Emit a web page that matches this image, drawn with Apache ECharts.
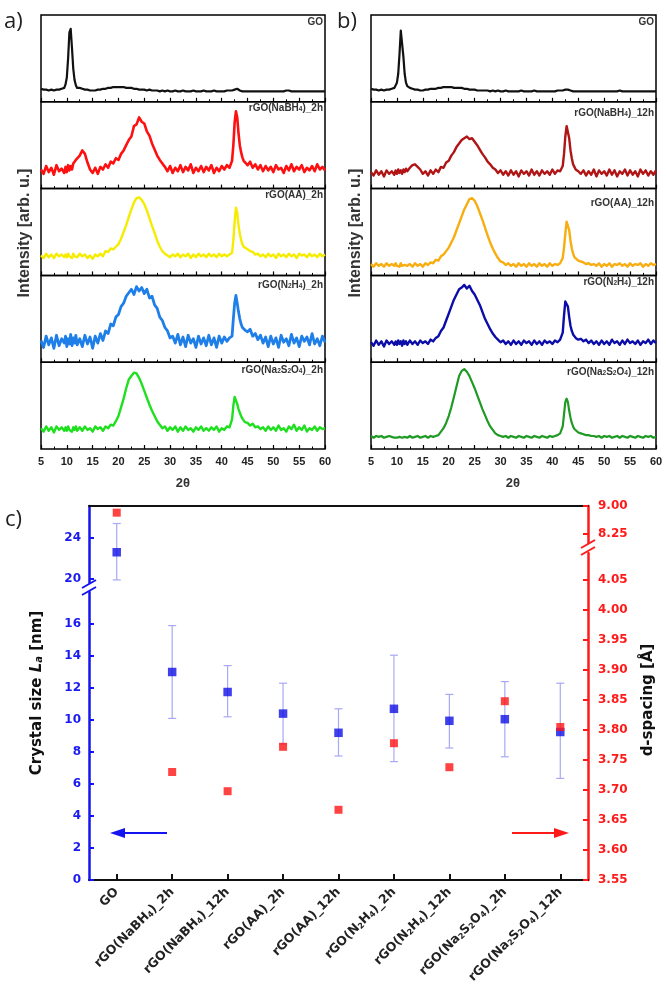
<!DOCTYPE html>
<html><head><meta charset="utf-8">
<script src="https://cdn.jsdelivr.net/npm/echarts@6/dist/echarts.min.js"></script>
<style>html,body{margin:0;padding:0;background:#fff}#c{width:666px;height:994px}</style>
</head><body><div id="c"></div>
<script>
// ---------- XRD data (panels a, b) ----------
const twoTheta = [5,5.5,6,6.5,7,7.5,8,8.5,9,9.5,
 9.75,10,10.25,10.5,10.75,11,11.25,11.5,11.75,12,
 12.5,13,13.5,14,14.5,15,15.5,16,16.5,17, 17.5,18,18.5,19,19.5,20,20.5,21,21.5,22,
 22.5,23,23.5,24,24.5,25,25.5,26,26.5,27, 27.5,28,28.5,29,29.5,30,30.5,31,31.5,32,
 32.5,33,33.5,34,34.5,35,35.5,36,36.5,37, 37.5,38,38.5,39,39.5,40,40.5,41,41.5,
 42,42.25,42.5,42.75,43,43.25,43.5,43.75,44,44.25,44.5,
 45,45.5,46,46.5,47,47.5,48,48.5,49,49.5, 50,50.5,51,51.5,52,52.5,53,53.5,54,54.5,
 55,55.5,56,56.5,57,57.5,58,58.5,59,59.5, 60];
const xrdTicks = [5,10,15,20,25,30,35,40,45,50,55,60];

const aGO = [15,14,14,13,14,13,14,14,15,16,
 20,28,50,80,84,62,38,25,19,16,
 16,15,14,14,13,13,13,14,14,15, 15,16,16,17,17,17,17,17,16,16,
 16,15,15,14,14,14,13,14,13,13, 13,12,13,12,13,12,12,13,12,12,
 13,12,12,12,13,12,12,12,13,12, 12,12,13,12,12,12,12,13,13,
 13,13,14,15,15,14,13,13,12,12,12,
 12,12,12,12,12,12,12,12,12,12, 12,12,12,12,12,13,13,12,12,12,
 12,12,12,12,12,12,12,12,12,12, 12];
const aNaBH4 = [22,17,26,19,24,16,27,20,23,18,
 25,19,27,21,26,22,29,27,33,35,
 38,44,40,30,22,18,24,17,25,22, 28,24,31,29,35,33,40,44,50,56,
 60,72,74,82,77,75,66,61,52,45, 38,33,29,25,20,26,18,24,20,27,
 19,25,21,28,18,24,20,26,19,25, 21,27,18,24,20,26,22,27,24,
 32,50,76,89,82,64,50,42,36,32,30,
 27,31,24,28,22,27,20,26,21,25, 19,27,22,24,18,26,21,28,20,25,
 22,27,19,24,21,26,20,28,22,25, 21];
const aAA = [23,20,25,21,24,20,25,22,24,21,
 24,21,25,22,24,20,25,22,24,21,
 25,22,24,20,23,19,24,22,25,22, 28,27,31,30,33,36,42,50,58,67,
 76,84,89,90,87,82,75,66,57,49, 40,33,28,25,23,21,24,22,25,21,
 24,22,25,20,24,21,25,22,24,21, 25,22,24,21,25,22,24,22,24,
 26,40,62,78,72,58,48,41,36,33,31,
 30,28,27,24,25,22,24,21,25,22, 24,20,25,22,24,21,25,22,24,20,
 25,23,24,21,25,22,24,21,25,22, 24];
const aN2H4 = [25,17,30,20,28,16,31,19,27,22,
 30,18,27,21,32,19,28,22,31,20,
 27,18,31,21,29,16,30,22,33,25, 36,33,44,42,52,55,64,68,76,80,
 84,78,87,82,86,79,84,74,76,66, 62,52,48,40,36,28,30,22,32,20,
 29,18,31,22,27,17,30,21,28,19, 31,20,28,17,30,22,29,24,28,
 30,50,68,77,68,58,50,44,40,42,37,
 35,38,30,33,26,31,22,29,18,30, 21,28,17,31,23,27,19,32,22,28,
 18,30,24,29,20,33,21,27,19,30, 23];
const aNa2S2O4 = [24,20,26,21,25,19,26,22,25,21,
 25,21,26,22,24,20,25,22,26,21,
 25,21,26,22,24,20,26,23,25,21, 26,24,28,27,32,38,48,58,70,80,
 84,88,87,82,75,67,59,51,44,38, 32,28,24,26,21,25,22,26,20,25,
 21,26,22,24,20,25,22,26,21,24, 21,25,22,26,20,24,22,26,25,
 34,50,60,58,52,46,42,38,35,33,31,
 30,27,29,25,26,23,25,21,26,22, 25,21,27,22,24,20,26,23,28,21,
 25,22,27,20,24,22,26,21,25,23, 24];

const bGO = [15,14,14,13,14,13,14,14,15,16,
 18,22,32,55,82,80,52,32,22,18,
 16,15,14,14,13,13,14,14,15,15, 15,16,16,17,17,17,17,16,16,16,
 16,15,15,14,14,14,13,13,13,13, 13,12,13,12,13,12,12,13,12,12,
 12,12,12,13,12,12,12,12,13,12, 12,12,12,12,12,12,12,13,13,
 13,13,14,15,14,14,13,13,12,12,12,
 12,12,12,12,12,12,12,12,12,12, 12,12,12,12,12,12,13,12,12,12,
 12,12,12,12,12,12,12,12,12,12, 12];
const bNaBH4 = [19,15,21,16,20,14,21,17,20,16,
 21,17,22,18,21,17,22,19,23,20,
 24,27,28,25,22,17,20,15,21,17, 22,19,25,24,30,32,38,42,48,52,
 56,58,60,57,58,54,50,45,40,36, 31,28,24,22,18,21,16,20,15,21,
 16,20,14,21,17,20,15,22,16,20, 15,21,17,20,16,22,17,21,20,
 26,40,60,72,74,58,44,35,28,25,22,
 20,17,21,15,20,16,22,14,21,17, 20,15,22,16,21,14,20,17,22,15,
 21,16,20,14,22,17,21,15,20,16, 21];
const bAA = [13,10,14,11,13,10,14,11,13,11,
 14,11,13,10,14,11,13,12,14,11,
 13,10,14,11,13,10,14,12,15,14, 18,17,22,24,28,32,38,44,52,60,
 68,76,82,88,89,86,80,72,64,55, 46,38,31,25,20,16,15,12,14,11,
 13,10,14,11,13,10,14,11,13,10, 14,11,13,10,14,11,13,12,14,
 20,32,48,62,64,52,40,31,25,21,19,
 17,16,15,13,14,12,13,11,14,10, 13,11,14,10,13,12,14,11,13,10,
 14,11,13,12,14,10,13,11,14,12, 13];
const bN2H4 = [23,19,25,20,24,18,25,21,24,20,
 24,20,25,21,24,19,25,21,24,20,
 25,21,24,20,25,22,24,21,26,24, 28,30,36,40,48,56,64,72,78,84,
 86,89,85,88,82,78,72,66,58,50, 44,38,33,29,26,23,25,21,24,20,
 25,21,24,20,25,22,24,20,25,21, 24,20,25,22,24,21,25,23,26,
 34,54,70,72,64,52,42,36,32,30,28,
 26,27,24,26,22,25,21,24,20,25, 21,24,20,26,22,24,20,25,21,26,
 22,24,21,25,20,24,22,26,21,25, 22];
const bNa2S2O4 = [15,13,15,14,15,13,14,15,14,13,
 15,13,15,14,14,13,15,14,15,13,
 15,13,14,15,13,14,15,13,15,14, 15,16,20,24,30,38,48,60,72,84,
 90,92,89,84,77,70,62,54,46,39, 32,26,22,18,16,15,14,15,13,15,
 14,13,15,14,13,15,14,13,15,14, 13,15,14,13,15,14,15,16,18,
 26,40,54,58,54,44,36,30,26,23,21,
 19,18,17,16,16,15,15,14,15,13, 15,14,15,13,14,15,13,15,14,13,
 15,14,13,15,14,13,15,14,15,13, 14];

const tracesA = [aGO, aNaBH4, aAA, aN2H4, aNa2S2O4];
const tracesB = [bGO, bNaBH4, bAA, bN2H4, bNa2S2O4];
const labelsA = ['GO','rGO(NaBH4)_2h','rGO(AA)_2h','rGO(N2H4)_2h','rGO(Na2S2O4)_2h'];
const labelsB = ['GO','rGO(NaBH4)_12h','rGO(AA)_12h','rGO(N2H4)_12h','rGO(Na2S2O4)_12h'];

// ---------- panel c data ----------
const categories = ['GO','rGO(NaBH4)_2h','rGO(NaBH4)_12h','rGO(AA)_2h','rGO(AA)_12h',
 'rGO(N2H4)_2h','rGO(N2H4)_12h','rGO(Na2S2O4)_2h','rGO(Na2S2O4)_12h'];
const crystalSize     = [22.6, 13.0, 11.75, 10.4, 9.2, 10.7, 9.95, 10.05, 9.25];
const crystalSizeLow  = [19.9, 10.1, 10.2, 8.5, 7.75, 7.4, 8.25, 7.7, 6.35];
const crystalSizeHigh = [25.4, 15.9, 13.4, 12.3, 10.7, 14.05, 11.6, 12.4, 12.3];
const dSpacing        = [8.82, 3.73, 3.698, 3.772, 3.667, 3.778, 3.738, 3.848, 3.805];
const sizeTicksUpper = [20, 24];
const sizeTicksLower = [0, 2, 4, 6, 8, 10, 12, 14, 16];
const dTicksUpper = [8.25, 9.00];
const dTicksLower = [3.55, 3.60, 3.65, 3.70, 3.75, 3.80, 3.85, 3.90, 3.95, 4.00, 4.05];
const sizeBreak = 18, dBreak = 5;

// ---------- layout ----------
const colorsA = ['#111111','#ff1010','#f5ec00','#1f7fe8','#1ee01e'];
const colorsB = ['#111111','#b01414','#f8ad10','#0c0ca8','#1f9a24'];
const widthsA = [2.2,2.6,2.4,2.8,2.4];
const widthsB = [2.2,2.4,2.4,2.4,2.2];
const panelTop = 15, panelH = 86.8;
const labelYA = [22,108,195,285,370], labelYB = [22,113,203,282,372];
const sub = s => s.replace(/([A-Za-z])(\d)/g, '$1{s|$2}');
const FT = 'Liberation Sans', FC = 'DejaVu Sans';

const chart = echarts.init(document.getElementById('c'), null, {renderer:'canvas', width:666, height:994});
const grid = [], xAxis = [], yAxis = [], series = [], graphic = [];

function addPanel(left, width, k, data, color, lw, label, ly, rightX) {
  const gi = grid.length;
  grid.push({left:left, width:width, top:panelTop + k*panelH, height:panelH, show:true,
    borderColor:'#000', borderWidth:1.5, backgroundColor:'transparent'});
  const bottom = (k === 4);
  xAxis.push({gridIndex:gi, type:'value', min:5, max:60, interval:5,
    axisLine:{show:false},
    axisTick:{show:true, inside:true, length:4, lineStyle:{color:'#000', width:1.2}},
    minorTick:{show:true, splitNumber:2, length:2.5, lineStyle:{color:'#000', width:1}},
    splitLine:{show:false}, minorSplitLine:{show:false},
    axisLabel:{show:bottom, fontFamily:FT, fontWeight:'bold', fontSize:11, color:'#222', margin:7}});
  yAxis.push({gridIndex:gi, type:'value', min:0, max:100, show:false});
  series.push({type:'line', xAxisIndex:gi, yAxisIndex:gi, showSymbol:false, silent:true,
    data: twoTheta.map((x,i)=>[x, data[i]]),
    lineStyle:{color:color, width:lw, join:'round'}, itemStyle:{color:color}});
  graphic.push({type:'text', x:rightX, y:ly, z:100, style:{text:sub(label), fill:'#333',
    font:'bold 10px "Liberation Sans"', align:'right', verticalAlign:'middle',
    rich:{s:{fontSize:6.5, fontWeight:'bold', fontFamily:FT, fill:'#333', verticalAlign:'bottom'}}}});
}
for (let k=0;k<5;k++) addPanel(41, 284, k, tracesA[k], colorsA[k], widthsA[k], labelsA[k], labelYA[k], 323);
for (let k=0;k<5;k++) addPanel(371, 285, k, tracesB[k], colorsB[k], widthsB[k], labelsB[k], labelYB[k], 654);

// panel c grids
const cLeft = 89, cWidth = 499;
const gLU = grid.length;
grid.push({left:cLeft, width:cWidth, top:506, height:77});
grid.push({left:cLeft, width:cWidth, top:592, height:288});
grid.push({left:cLeft, width:cWidth, top:506, height:37});
grid.push({left:cLeft, width:cWidth, top:553, height:327});
const gLL = gLU+1, gRU = gLU+2, gRL = gLU+3;

const catLabel = {fontFamily:FC, fontWeight:'bold', fontSize:12.5, color:'#222', rotate:45, margin:10,
  formatter: v => sub(v), rich:{s:{fontFamily:FC, fontWeight:'bold', fontSize:8, color:'#222', verticalAlign:'bottom'}}};
xAxis.push({gridIndex:gLU, type:'category', data:categories, position:'top',
  axisLine:{lineStyle:{color:'#111', width:2}}, axisTick:{show:false}, axisLabel:{show:false}});
xAxis.push({gridIndex:gLL, type:'category', data:categories, position:'bottom',
  axisLine:{lineStyle:{color:'#111', width:2}},
  axisTick:{show:true, inside:true, alignWithLabel:true, length:6, lineStyle:{color:'#111', width:2}},
  axisLabel:catLabel});
xAxis.push({gridIndex:gRU, type:'category', data:categories, show:false});
xAxis.push({gridIndex:gRL, type:'category', data:categories, show:false});

const blueLbl = {fontFamily:FC, fontWeight:'bold', fontSize:12, color:'#1a1af0', margin:8};
const redLbl = {fontFamily:FC, fontWeight:'bold', fontSize:12, color:'#ff1a1a', margin:10, formatter:v=>Number(v).toFixed(2)};
yAxis.push({gridIndex:gLU, type:'value', position:'left', min:19.6, max:27.11,
  axisLine:{show:true, lineStyle:{color:'#1414f0', width:2.5}},
  axisTick:{show:true, inside:true, length:5, customValues:sizeTicksUpper, lineStyle:{color:'#1414f0', width:2}},
  axisLabel:Object.assign({customValues:sizeTicksUpper}, blueLbl), splitLine:{show:false}});
yAxis.push({gridIndex:gLL, type:'value', position:'left', min:0, max:18,
  axisLine:{show:true, lineStyle:{color:'#1414f0', width:2.5}},
  axisTick:{show:true, inside:true, length:5, customValues:sizeTicksLower, lineStyle:{color:'#1414f0', width:2}},
  axisLabel:Object.assign({customValues:sizeTicksLower}, blueLbl), splitLine:{show:false}});
yAxis.push({gridIndex:gRU, type:'value', position:'right', min:8.0, max:9.0,
  axisLine:{show:true, lineStyle:{color:'#ff1a1a', width:2.5}},
  axisTick:{show:true, inside:true, length:5, customValues:dTicksUpper, lineStyle:{color:'#ff1a1a', width:2}},
  axisLabel:Object.assign({customValues:dTicksUpper}, redLbl), splitLine:{show:false}});
yAxis.push({gridIndex:gRL, type:'value', position:'right', min:3.55, max:4.095,
  axisLine:{show:true, lineStyle:{color:'#ff1a1a', width:2.5}},
  axisTick:{show:true, inside:true, length:5, customValues:dTicksLower, lineStyle:{color:'#ff1a1a', width:2}},
  axisLabel:Object.assign({customValues:dTicksLower}, redLbl), splitLine:{show:false}});

function errRender(params, api) {
  const x = api.value(0), lo = api.value(1), hi = api.value(2);
  const a = api.coord([x, lo]), b = api.coord([x, hi]);
  const w = 4, st = {stroke:'#a8a8f4', lineWidth:1.2};
  return {type:'group', children:[
    {type:'line', shape:{x1:a[0], y1:a[1], x2:b[0], y2:b[1]}, style:st},
    {type:'line', shape:{x1:a[0]-w, y1:a[1], x2:a[0]+w, y2:a[1]}, style:st},
    {type:'line', shape:{x1:b[0]-w, y1:b[1], x2:b[0]+w, y2:b[1]}, style:st}]};
}
const errUpper = [], errLower = [];
categories.forEach((c,i)=>{
  (crystalSize[i] > sizeBreak ? errUpper : errLower).push([i, crystalSizeLow[i], crystalSizeHigh[i]]);
});
series.push({type:'custom', xAxisIndex:gLU, yAxisIndex:gLU, renderItem:errRender, data:errUpper, encode:{x:0, y:[1,2]}, z:2, silent:true});
series.push({type:'custom', xAxisIndex:gLL, yAxisIndex:gLL, renderItem:errRender, data:errLower, encode:{x:0, y:[1,2]}, z:2, silent:true});
const blueSq = {type:'scatter', symbol:'rect', symbolSize:8.5, itemStyle:{color:'#1010e6'}, z:3, silent:true};
const redSq = {type:'scatter', symbol:'rect', symbolSize:8, itemStyle:{color:'#ff1414'}, z:4, silent:true};
series.push(Object.assign({xAxisIndex:gLU, yAxisIndex:gLU, data:crystalSize.map(v=>v>sizeBreak?v:'-')}, blueSq));
series.push(Object.assign({xAxisIndex:gLL, yAxisIndex:gLL, data:crystalSize.map(v=>v<=sizeBreak?v:'-')}, blueSq));
series.push(Object.assign({xAxisIndex:gRU, yAxisIndex:gRU, data:dSpacing.map(v=>v>dBreak?v:'-')}, redSq));
series.push(Object.assign({xAxisIndex:gRL, yAxisIndex:gRL, data:dSpacing.map(v=>v<=dBreak?v:'-')}, redSq));

// ---------- decorations ----------
const txt = (x,y,text,font,fill,extra) => Object.assign({type:'text', x:x, y:y,
  style:Object.assign({text:text, font:font, fill:fill, align:'center', verticalAlign:'middle'}, (extra||{}).style||{})},
  (extra||{}).el||{});
graphic.push(txt(4,22,'a)','22px "Open Sans"','#222',{style:{align:'left'}}));
graphic.push(txt(337,22,'b)','22px "Open Sans"','#222',{style:{align:'left'}}));
graphic.push(txt(5,520,'c)','22px "Open Sans"','#222',{style:{align:'left'}}));
graphic.push(txt(25,233,'Intensity [arb. u.]','bold 16px "Liberation Sans"','#333',{el:{rotation:Math.PI/2}}));
graphic.push(txt(356,233,'Intensity [arb. u.]','bold 16px "Liberation Sans"','#333',{el:{rotation:Math.PI/2}}));
graphic.push(txt(183,483,'2θ','bold 13px "Liberation Sans"','#333'));
graphic.push(txt(513,483,'2θ','bold 13px "Liberation Sans"','#333'));
graphic.push(txt(37,693,'Crystal size {i|L}{s|a} [nm]','bold 15px "DejaVu Sans"','#111',
  {el:{rotation:Math.PI/2}, style:{rich:{i:{fontStyle:'italic', fontWeight:'bold', fontSize:15, fontFamily:FC, fill:'#111'},
   s:{fontStyle:'italic', fontWeight:'bold', fontSize:10, fontFamily:FC, fill:'#111', verticalAlign:'bottom'}}}}));
graphic.push(txt(648,700,'d-spacing [Å]','bold 15px "DejaVu Sans"','#111',{el:{rotation:Math.PI/2}}));
// axis break marks
function slash(cx, cy, color) {
  return {type:'line', shape:{x1:cx-7, y1:cy+4, x2:cx+7, y2:cy-4}, style:{stroke:color, lineWidth:2}};
}
graphic.push(slash(89,584,'#1414f0'), slash(89,591,'#1414f0'));
graphic.push(slash(588,544,'#ff1a1a'), slash(588,551,'#ff1a1a'));
// arrows
graphic.push({type:'line', shape:{x1:167,y1:833,x2:118,y2:833}, style:{stroke:'#1414f0', lineWidth:2}});
graphic.push({type:'polygon', shape:{points:[[110,833],[125,828],[125,838]]}, style:{fill:'#1414f0'}});
graphic.push({type:'line', shape:{x1:512,y1:833,x2:558,y2:833}, style:{stroke:'#ff1a1a', lineWidth:2}});
graphic.push({type:'polygon', shape:{points:[[569,833],[554,828],[554,838]]}, style:{fill:'#ff1a1a'}});

chart.setOption({animation:false, backgroundColor:'#fff', grid, xAxis, yAxis, series, graphic});
</script></body></html>
